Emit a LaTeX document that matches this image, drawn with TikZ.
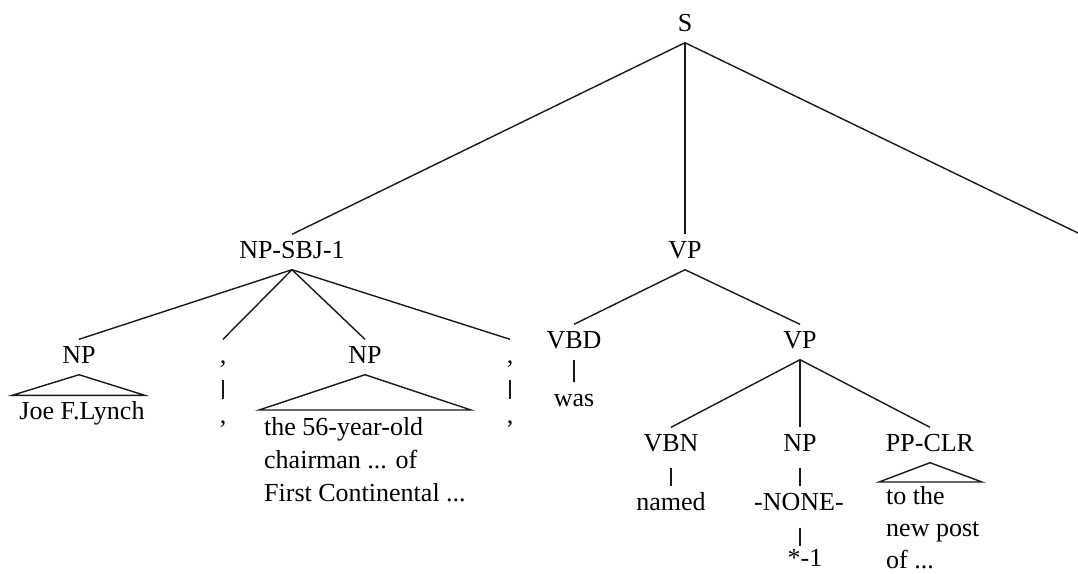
\documentclass[tikz,border=0pt]{standalone}
\usepackage{fontspec}
\setmainfont{Liberation Serif}
\begin{document}
\begin{tikzpicture}[x=1pt,y=-1pt,
  every node/.style={font=\fontsize{26}{33}\selectfont, text=black},
  cat/.style={anchor=base, inner xsep=0pt, inner ysep=5.5pt, text height=18pt, text depth=6pt},
  leaf/.style={anchor=north west, inner sep=0pt, align=left},
  edge/.style={draw=black!90, line width=1.4pt, line join=miter},
  unary/.style={edge, shorten <=5pt}
]
\useasboundingbox[fill=white] (0,0) rectangle (1078,573);

% category labels
\node[cat] (s)     at (685,31)  {S};
\node[cat] (sbj)   at (292,258) {NP-SBJ-1};
\node[cat] (vp)    at (685,258) {VP};
\coordinate (rest) at (1078,233);

\node[cat] (np1)   at (79,363)  {NP};
\node[cat] (c1)    at (223,363) {,};
\node[cat] (c1w)   at (223,423) {,};
\node[cat] (np2)   at (365,363) {NP};
\node[cat] (c2)    at (510,363) {,};
\node[cat] (c2w)   at (510,423) {,};
\node[cat] (vbd)   at (574,348) {VBD};
\node[cat] (was)   at (574,406) {was};
\node[cat] (vp2)   at (800,348) {VP};

\node[cat] (vbn)   at (671,451) {VBN};
\node[cat] (named) at (671,510) {named};
\node[cat] (np3)   at (800,451) {NP};
\node[cat] (none)  at (799,510) {-NONE-};
\node[cat] (star)  at (805,566) {*-1};
\node[cat] (pp)    at (930,451) {PP-CLR};

% collapsed phrases
\node[cat] (joe) at (82,419) {Joe F.Lynch};
\node[leaf] (np2t) at (264,417) {the 56-year-old\\chairman ... of\\First Continental ...};
\coordinate (np2l) at (259,410);
\coordinate (np2r) at (471,410);
\node[leaf, font=\fontsize{26}{32}\selectfont] (ppt) at (886,486) {to the\\new post\\of ...};
\coordinate (ppl) at (879,482);
\coordinate (ppr) at (982,482);

% branches
\draw[edge] (s.south) -- (sbj.north);
\draw[edge] (s.south) -- (vp.north);
\draw[edge] (s.south) -- (rest);

\draw[edge] (sbj.south) -- (np1.north);
\draw[edge] (sbj.south) -- (c1.north);
\draw[edge] (sbj.south) -- (np2.north);
\draw[edge] (sbj.south) -- (c2.north);

\draw[edge] (vp.south) -- (vbd.north);
\draw[edge] (vp.south) -- (vp2.north);

\draw[edge] (vp2.south) -- (vbn.north);
\draw[edge] (vp2.south) -- (np3.north);
\draw[edge] (vp2.south) -- (pp.north);

% unary branches
\draw[unary] (c1.south) -- (c1w.north);
\draw[unary] (c2.south) -- (c2w.north);
\draw[edge] (vbd.south) -- (was.north);
\draw[unary] (vbn.south) -- (named.north);
\draw[unary] (np3.south) -- (np3.south |- none.north);
\draw[unary, shorten <=6pt, shorten >=-4pt] (np3.south |- none.south) -- (np3.south |- star.north);

% triangles
\draw[edge] (np1.south) -- ([xshift=-7pt]joe.north west) -- (joe.north east) -- cycle;
\draw[edge] (np2.south) -- (np2l) -- (np2r) -- cycle;
\draw[edge] (pp.south) -- (ppl) -- (ppr) -- cycle;
\end{tikzpicture}
\end{document}
